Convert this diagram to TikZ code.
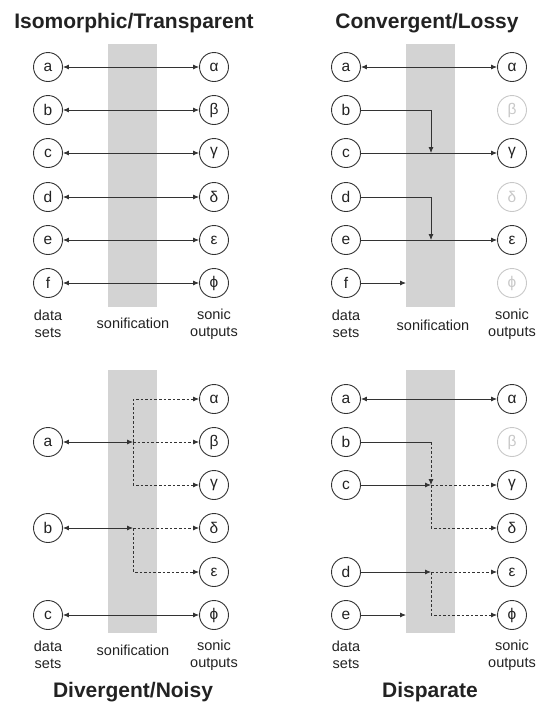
\documentclass[tikz,border=0pt]{standalone}
\usepackage{fontspec}
\setmainfont{Liberation Sans}
\usetikzlibrary{arrows.meta}
\definecolor{linec}{HTML}{333333}
\definecolor{ghostc}{HTML}{C8C8C8}
\definecolor{bandc}{HTML}{D3D3D3}
\definecolor{textc}{HTML}{222222}
\tikzset{
  circ/.style={circle, draw=linec, line width=0.9pt, fill=white, minimum size=29pt, inner sep=0pt, font=\fontsize{15.5}{15.5}\selectfont, text=textc},
  ghost/.style={circ, draw=ghostc, text=ghostc},
  band/.style={fill=bandc, draw=none},
  conn/.style={draw=linec, line width=0.8pt},
  dsh/.style={conn, dash pattern=on 2.6pt off 2pt},
  lbl/.style={font=\fontsize{14.5}{17}\selectfont, align=center, text=textc, inner sep=0pt},
  ttl/.style={font=\bfseries\fontsize{21}{22}\selectfont, text=textc, inner sep=0pt, anchor=base},
  >={Latex[length=6pt,width=5pt]}
}
\begin{document}
\begin{tikzpicture}[x=1pt,y=-1pt]
\useasboundingbox (0,0) rectangle (536,705);
% bands
\fill[band] (108,44) rectangle (157,307);
\fill[band] (406,44) rectangle (455,307);
\fill[band] (108,370) rectangle (157,633);
\fill[band] (406,370) rectangle (455,633);
% titles
\node[ttl] (t1) at (134,28) {Isomorphic/Transparent};
\node[ttl] (t2) at (427,28) {Convergent/Lossy};
\node[ttl] (t3) at (133,697) {Divergent/Noisy};
\node[ttl] (t4) at (430,697) {Disparate};
% ---------- panel 1
\foreach \n/\y/\l/\r in {a/67/a/α, b/110/b/β, c/153/c/γ, d/197/d/δ, e/240/e/ε, f/283/f/ϕ}{
  \node[circ] (L1\n) at (48,\y) {\l};
  \node[circ] (R1\n) at (214,\y) {\r};
  \draw[conn,<->] (L1\n) -- (R1\n);
}
\node[lbl] (ds1) at (48,324) {data\\sets};
\node[lbl] (so1) at (133,323) {sonification};
\node[lbl] (sn1) at (214,324) {sonic\\outputs};
% ---------- panel 2
\node[circ] (L2a) at (346,67) {a};
\node[circ] (L2b) at (346,110) {b};
\node[circ] (L2c) at (346,153) {c};
\node[circ] (L2d) at (346,197) {d};
\node[circ] (L2e) at (346,240) {e};
\node[circ] (L2f) at (346,283) {f};
\node[circ] (R2a) at (512,67) {α};
\node[ghost] (R2b) at (512,110) {β};
\node[circ] (R2c) at (512,153) {γ};
\node[ghost] (R2d) at (512,197) {δ};
\node[circ] (R2e) at (512,240) {ε};
\node[ghost] (R2f) at (512,283) {ϕ};
\coordinate (J2c) at (431,153);
\coordinate (J2e) at (431,240);
\coordinate (E2f) at (406,283);
\draw[conn,<->] (L2a) -- (R2a);
\draw[conn,->] (L2c) -- (R2c);
\draw[conn,->] (L2b) -| (J2c);
\draw[conn,->] (L2e) -- (R2e);
\draw[conn,->] (L2d) -| (J2e);
\draw[conn,->] (L2f) -- (E2f);
\node[lbl] (ds2) at (346,324) {data\\sets};
\node[lbl] (so2) at (433,325) {sonification};
\node[lbl] (sn2) at (512,324) {sonic\\outputs};
% ---------- panel 3
\node[circ] (L3a) at (48,442) {a};
\node[circ] (L3b) at (48,528) {b};
\node[circ] (L3c) at (48,615) {c};
\node[circ] (R3a) at (214,399) {α};
\node[circ] (R3b) at (214,442) {β};
\node[circ] (R3c) at (214,485) {γ};
\node[circ] (R3d) at (214,528) {δ};
\node[circ] (R3e) at (214,572) {ε};
\node[circ] (R3f) at (214,615) {ϕ};
\coordinate (J3a) at (133,442);
\coordinate (J3b) at (133,528);
\coordinate (V3t) at (133,399);
\coordinate (V3m) at (133,485);
\coordinate (V3e) at (133,572);
\draw[conn,<->] (L3a) -- (J3a);
\draw[dsh,->] (J3a) -- (R3b);
\draw[dsh,->] (J3a) -- (V3t) -- (R3a);
\draw[dsh,->] (J3a) -- (V3m) -- (R3c);
\draw[conn,<->] (L3b) -- (J3b);
\draw[dsh,->] (J3b) -- (R3d);
\draw[dsh,->] (J3b) -- (V3e) -- (R3e);
\draw[conn,<->] (L3c) -- (R3f);
\node[lbl] (ds3) at (48,655) {data\\sets};
\node[lbl] (so3) at (133,650) {sonification};
\node[lbl] (sn3) at (214,655) {sonic\\outputs};
% ---------- panel 4
\node[circ] (L4a) at (346,399) {a};
\node[circ] (L4b) at (346,442) {b};
\node[circ] (L4c) at (346,485) {c};
\node[circ] (L4d) at (346,572) {d};
\node[circ] (L4e) at (346,615) {e};
\node[circ] (R4a) at (512,399) {α};
\node[ghost] (R4b) at (512,442) {β};
\node[circ] (R4c) at (512,485) {γ};
\node[circ] (R4d) at (512,528) {δ};
\node[circ] (R4e) at (512,572) {ε};
\node[circ] (R4f) at (512,615) {ϕ};
\coordinate (B4) at (431,442);
\coordinate (J4c) at (431,485);
\coordinate (J4d) at (431,572);
\coordinate (E4e) at (406,615);
\draw[conn,<->] (L4a) -- (R4a);
\draw[conn] (L4b) -- (B4);
\draw[dsh,->] (B4) -- (J4c);
\draw[conn,->] (L4c) -- (J4c);
\draw[dsh,->] (J4c) -- (R4c);
\draw[dsh,->] (J4c) |- (R4d);
\draw[conn,->] (L4d) -- (J4d);
\draw[dsh,->] (J4d) -- (R4e);
\draw[dsh,->] (J4d) |- (R4f);
\draw[conn,->] (L4e) -- (E4e);
\node[lbl] (ds4) at (346,655) {data\\sets};
\node[lbl] (sn4) at (512,655) {sonic\\outputs};
\end{tikzpicture}
\end{document}
